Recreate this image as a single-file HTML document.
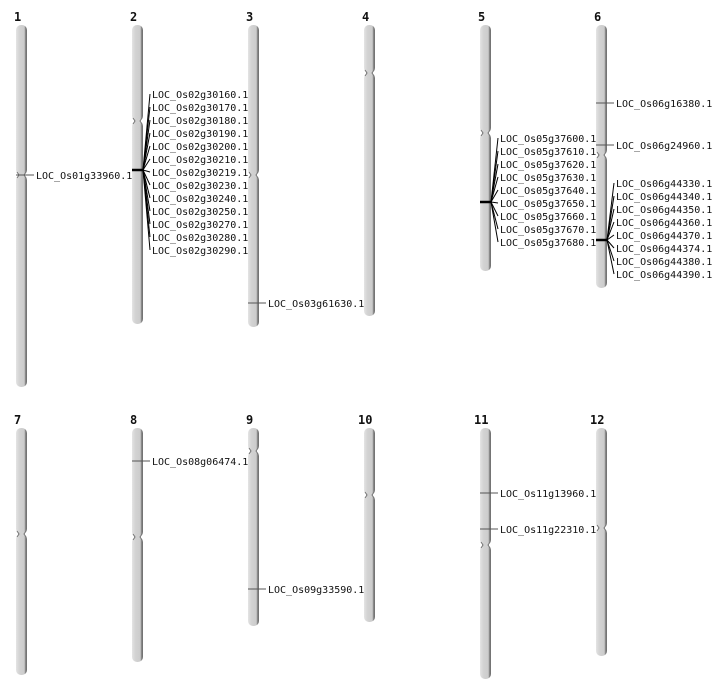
<!DOCTYPE html>
<html><head><meta charset="utf-8"><style>
html,body{margin:0;padding:0;background:#fff;width:712px;height:700px;overflow:hidden}
svg text{font-family:"DejaVu Sans Mono","Liberation Mono",monospace}
</style></head><body>
<svg id="s" width="712" height="700" xmlns="http://www.w3.org/2000/svg">
<defs>
<linearGradient id="g" x1="0" x2="1" y1="0" y2="0">
<stop offset="0" stop-color="#e4e4e4"/><stop offset="0.3" stop-color="#d3d3d3"/><stop offset="0.75" stop-color="#cccccc"/><stop offset="0.85" stop-color="#8a8a8a"/><stop offset="1" stop-color="#6a6a6a"/>
</linearGradient>
</defs>
</svg>
<script>
var s=document.getElementById('s'),out='';
var chr=[
[1,16,25,387,175],[2,132,25,324,121],[3,248,25,327,175],[4,364,25,316,73],[5,480,25,271,133],[6,596,25,288,155],
[7,16,428,675,534],[8,132,428,662,537],[9,248,428,626,451],[10,364,428,622,495],[11,480,428,679,545],[12,596,428,656,528]];
chr.forEach(function(c){
 var x=c[1],t=c[2],b=c[3],m=c[4];
 var lx=c[0]>=10?x-6:x-2;
 out+='<text x="'+lx+'" y="'+(t-4)+'" font-size="12" font-weight="bold" fill="#111">'+c[0]+'</text>';
 out+='<rect x="'+x+'" y="'+t+'" width="11" height="'+(m-t)+'" rx="5" fill="url(#g)"/>';
 out+='<rect x="'+x+'" y="'+(m)+'" width="11" height="'+(b-m)+'" rx="5" fill="url(#g)"/>';
 out+='<rect x="'+(x+2)+'" y="'+(m-2)+'" width="7" height="4" fill="#d0d0d0"/>';
 out+='<path d="M'+(x+1)+' '+(m-3)+' L'+(x+3)+' '+m+' L'+(x+1)+' '+(m+3)+' M'+(x+10)+' '+(m-3)+' L'+(x+8)+' '+m+' L'+(x+10)+' '+(m+3)+'" stroke="#777" stroke-width="1" fill="none"/>';
});
function single(cx,y,lab){
 out+='<line x1="'+cx+'" y1="'+y+'" x2="'+(cx+18)+'" y2="'+y+'" stroke="#555" stroke-width="1"/>';
 out+='<text x="'+(cx+20)+'" y="'+(y+4)+'" font-size="10" fill="#111">'+lab+'</text>';
}
function group(cx,my,y0,labs){
 out+='<line x1="'+cx+'" y1="'+my+'" x2="'+(cx+11)+'" y2="'+my+'" stroke="#000" stroke-width="2.5"/>';
 labs.forEach(function(l,i){var y=y0+13*i;
  out+='<line x1="'+(cx+11)+'" y1="'+my+'" x2="'+(cx+18)+'" y2="'+y+'" stroke="#000" stroke-width="1"/>';
  out+='<text x="'+(cx+20)+'" y="'+(y+4)+'" font-size="10" fill="#111">'+l+'</text>';});
}
single(16,175,'LOC_Os01g33960.1');
group(132,170,94,['30160','30170','30180','30190','30200','30210','30219','30230','30240','30250','30270','30280','30290'].map(function(a){return 'LOC_Os02g'+a+'.1'}));
single(248,303,'LOC_Os03g61630.1');
group(480,202,138,['37600','37610','37620','37630','37640','37650','37660','37670','37680'].map(function(a){return 'LOC_Os05g'+a+'.1'}));
single(596,103,'LOC_Os06g16380.1');
single(596,145,'LOC_Os06g24960.1');
group(596,240,183,['44330','44340','44350','44360','44370','44374','44380','44390'].map(function(a){return 'LOC_Os06g'+a+'.1'}));
single(132,461,'LOC_Os08g06474.1');
single(248,589,'LOC_Os09g33590.1');
single(480,493,'LOC_Os11g13960.1');
single(480,529,'LOC_Os11g22310.1');
s.insertAdjacentHTML('beforeend',out);
</script>
</body></html>
